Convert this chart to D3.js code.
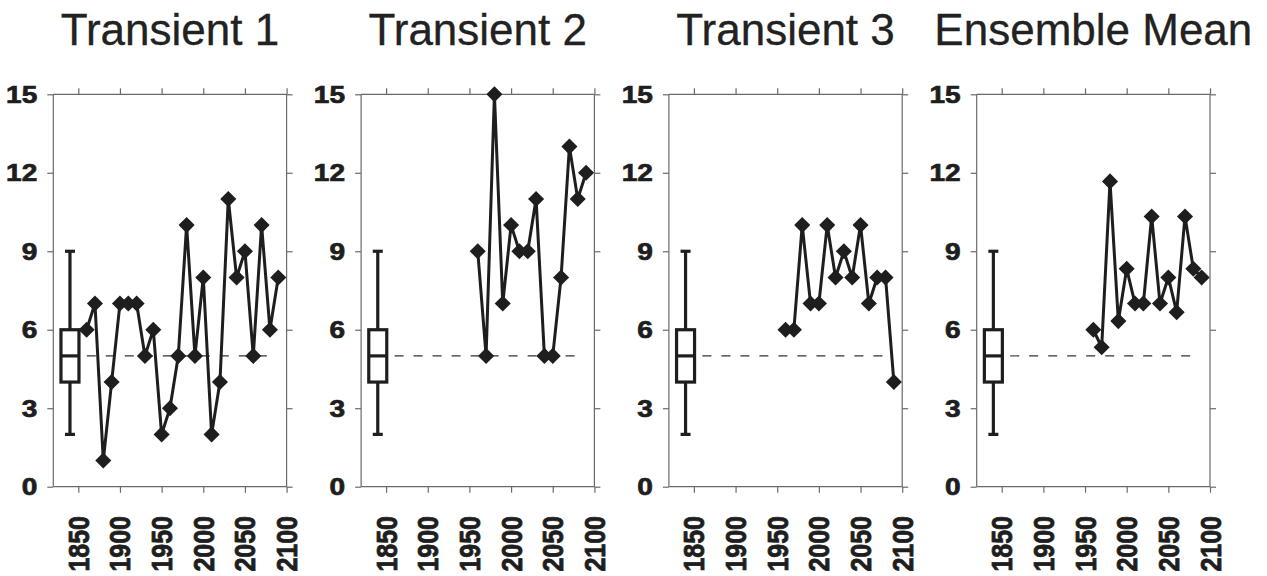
<!DOCTYPE html>
<html>
<head>
<meta charset="utf-8">
<script src="https://cdn.jsdelivr.net/npm/d3@7"></script>
<style>
  html, body { margin: 0; padding: 0; background: #fff; }
  svg { display: block; }
</style>
</head>
<body>
<svg id="chart" width="1267" height="576"></svg>
<script>
// ---- Data ----
const panelTitles = ["Transient 1", "Transient 2", "Transient 3", "Ensemble Mean"];

const yearsT1 = [1860, 1870, 1880, 1890, 1900, 1910, 1920, 1930, 1940, 1950, 1960, 1970,
                 1980, 1990, 2000, 2010, 2020, 2030, 2040, 2050, 2060, 2070, 2080, 2090];
const valuesT1 = [6, 7, 1, 4, 7, 7, 7, 5, 6, 2, 3, 5, 10, 5, 8, 2, 4, 11, 8, 9, 5, 10, 6, 8];

const yearsLate = [1960, 1970, 1980, 1990, 2000, 2010, 2020, 2030, 2040, 2050, 2060, 2070, 2080, 2090];
const valuesT2 = [9, 5, 15, 7, 10, 9, 9, 11, 5, 5, 8, 13, 11, 12];
const valuesT3 = [6, 6, 10, 7, 7, 10, 8, 9, 8, 10, 7, 8, 8, 4];
const valuesMean = [6, 5.33, 11.67, 6.33, 8.33, 7, 7, 10.33, 7, 8, 6.67, 10.33, 8.33, 8];

// control box plot (same in every panel)
const boxYear = 1840;
const boxStats = { low: 2, q1: 4, median: 5, q3: 6, high: 9 };
const refLevel = 5;
const refStartYear = 1853;
const refEndYear = 2085;

const xDomain = [1820, 2100];
const yDomain = [0, 15];
const xTickValues = [1850, 1900, 1950, 2000, 2050, 2100];
const yTickValues = [0, 3, 6, 9, 12, 15];

const panels = [
  { title: panelTitles[0], years: yearsT1, values: valuesT1 },
  { title: panelTitles[1], years: yearsLate, values: valuesT2 },
  { title: panelTitles[2], years: yearsLate, values: valuesT3 },
  { title: panelTitles[3], years: yearsLate, values: valuesMean }
];

// ---- Layout ----
const svg = d3.select("#chart");
const panelLeft0 = 53.3;
const panelStep = 307.8;
const panelW = 233.3;
const plotTop = 94.3;
const plotBottom = 486.7;
const ink = "#1e1e1e";
const axisColor = "#6a6a6a";
const tickLen = 6;
const labelStretch = 1.17;

const y = d3.scaleLinear().domain(yDomain).range([plotBottom, plotTop]);

panels.forEach((p, i) => {
  const left = panelLeft0 + i * panelStep;
  const x = d3.scaleLinear().domain(xDomain).range([left, left + panelW]);
  const g = svg.append("g");

  // title
  g.append("text")
    .attr("x", left + panelW / 2)
    .attr("y", 44.5)
    .attr("text-anchor", "middle")
    .attr("font-family", "'Liberation Sans', Arial, Helvetica, sans-serif")
    .attr("font-size", 44)
    .attr("fill", "#222")
    .attr("stroke", "#222")
    .attr("stroke-width", 0.3)
    .text(p.title);

  // axes (all ticks outward)
  const axL = d3.axisLeft(y).tickValues(yTickValues).tickSize(tickLen).tickFormat("");
  const axR = d3.axisRight(y).tickValues(yTickValues).tickSize(tickLen).tickFormat("");
  const axT = d3.axisTop(x).tickValues(xTickValues).tickSize(tickLen).tickFormat("");
  const axB = d3.axisBottom(x).tickValues(xTickValues).tickSize(tickLen).tickFormat("");

  const gL = g.append("g").attr("transform", `translate(${left},0)`).call(axL);
  const gR = g.append("g").attr("transform", `translate(${left + panelW},0)`).call(axR);
  const gT = g.append("g").attr("transform", `translate(0,${plotTop})`).call(axT);
  const gB = g.append("g").attr("transform", `translate(0,${plotBottom})`).call(axB);
  [gL, gR, gT, gB].forEach(a => {
    a.select(".domain").attr("stroke", axisColor).attr("stroke-width", 1.2);
    a.selectAll(".tick line").attr("stroke", axisColor).attr("stroke-width", 1.2);
  });
  gL.select(".domain").attr("d", `M0,${plotBottom}V${plotTop}`);
  gR.select(".domain").attr("d", `M0,${plotBottom}V${plotTop}`);
  gT.select(".domain").attr("d", `M${left},0H${left + panelW}`);
  gB.select(".domain").attr("d", `M${left},0H${left + panelW}`);

  // y tick labels
  g.selectAll(".ylab").data(yTickValues).join("text")
    .attr("class", "ylab")
    .attr("transform", d => `translate(${left - 16},${y(d)}) scale(${labelStretch},1)`)
    .attr("text-anchor", "end")
    .attr("dy", "0.36em")
    .attr("font-family", "'Liberation Sans', Arial, Helvetica, sans-serif")
    .attr("font-weight", "bold")
    .attr("font-size", 24)
    .attr("fill", ink)
    .attr("stroke", ink)
    .attr("stroke-width", 0.7)
    .text(d => d);

  // x tick labels (rotated)
  g.selectAll(".xlab").data(xTickValues).join("text")
    .attr("class", "xlab")
    .attr("transform", d => `translate(${x(d)},${516}) scale(${labelStretch},1) rotate(-90)`)
    .attr("text-anchor", "end")
    .attr("dy", "0.36em")
    .attr("font-family", "'Liberation Sans', Arial, Helvetica, sans-serif")
    .attr("font-weight", "bold")
    .attr("font-size", 25)
    .attr("fill", ink)
    .attr("stroke", ink)
    .attr("stroke-width", 0.7)
    .text(d => d);

  // dashed reference line
  g.append("line")
    .attr("x1", x(refStartYear) + 6).attr("x2", x(refEndYear))
    .attr("y1", y(refLevel)).attr("y2", y(refLevel))
    .attr("stroke", "#333")
    .attr("stroke-width", 1.1)
    .attr("stroke-dasharray", "9,10");

  // box plot
  const bx = x(boxYear);
  const halfW = 9;
  const capW = 5;
  const bg = g.append("g").attr("stroke", ink).attr("stroke-width", 3.2).attr("fill", "none");
  bg.append("line").attr("x1", bx).attr("x2", bx).attr("y1", y(boxStats.high)).attr("y2", y(boxStats.q3));
  bg.append("line").attr("x1", bx).attr("x2", bx).attr("y1", y(boxStats.q1)).attr("y2", y(boxStats.low));
  bg.append("line").attr("x1", bx - capW).attr("x2", bx + capW).attr("y1", y(boxStats.high)).attr("y2", y(boxStats.high));
  bg.append("line").attr("x1", bx - capW).attr("x2", bx + capW).attr("y1", y(boxStats.low)).attr("y2", y(boxStats.low));
  bg.append("rect").attr("x", bx - halfW).attr("width", 2 * halfW)
    .attr("y", y(boxStats.q3)).attr("height", y(boxStats.q1) - y(boxStats.q3))
    .attr("fill", "#fff");
  bg.append("line").attr("x1", bx - halfW).attr("x2", bx + halfW).attr("y1", y(boxStats.median)).attr("y2", y(boxStats.median));

  // series line
  const pts = p.years.map((yr, k) => [yr, p.values[k]]);
  const line = d3.line().x(d => x(d[0])).y(d => y(d[1]));
  g.append("path")
    .datum(pts)
    .attr("d", line)
    .attr("fill", "none")
    .attr("stroke", ink)
    .attr("stroke-width", 3)
    .attr("stroke-linejoin", "round");

  // diamond markers
  const diamond = d3.symbol().type(d3.symbolDiamond2).size(165);
  g.selectAll(".pt").data(pts).join("path")
    .attr("class", "pt")
    .attr("transform", d => `translate(${x(d[0])},${y(d[1])})`)
    .attr("d", diamond)
    .attr("fill", ink);
});
</script>
</body>
</html>
